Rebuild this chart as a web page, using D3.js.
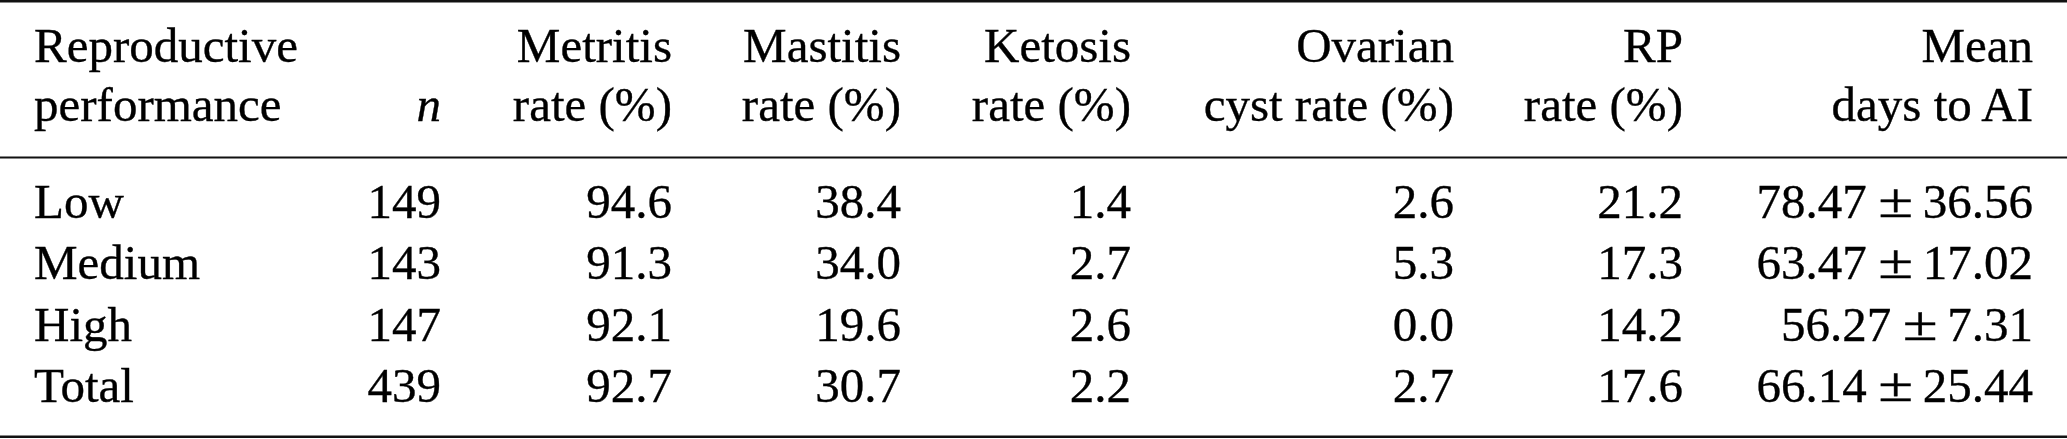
<!DOCTYPE html>
<html>
<head>
<meta charset="utf-8">
<script src="https://cdn.jsdelivr.net/npm/d3@7"></script>
<style>
  html, body { margin: 0; padding: 0; background: #fff; }
  svg { display: block; }
  text { font-family: "Liberation Serif", "Times New Roman", serif; fill: #000; stroke: #000; stroke-width: 0.35; }
</style>
</head>
<body>
<svg id="chart"></svg>
<script>
// table values
var groups = ["Low", "Medium", "High", "Total"];
var nVals = [149, 143, 147, 439];
var metritis = [94.6, 91.3, 92.1, 92.7];
var mastitis = [38.4, 34.0, 19.6, 30.7];
var ketosis = [1.4, 2.7, 2.6, 2.2];
var ovarian = [2.6, 5.3, 0.0, 2.7];
var rp = [21.2, 17.3, 14.2, 17.6];
var meanDays = [78.47, 63.47, 56.27, 66.14];
var sdDays = [36.56, 17.02, 7.31, 25.44];

var headTop = ["Reproductive", "", "Metritis", "Mastitis", "Ketosis", "Ovarian", "RP", "Mean"];
var headBottom = ["performance", "n", "rate (%)", "rate (%)", "rate (%)", "cyst rate (%)", "rate (%)", "days to AI"];

var width = 2067, height = 439, fontSize = 49;

var svg = d3.select("#chart")
    .attr("width", width)
    .attr("height", height);

// column anchors: first column left aligned, the rest right aligned
var colKeys = ["group", "n", "metritis", "mastitis", "ketosis", "ovarian", "rp", "mean"];
var x = d3.scaleOrdinal()
    .domain(colKeys)
    .range([34, 441, 672, 901, 1131, 1454, 1683, 2033]);

var y = d3.scalePoint()
    .domain(groups)
    .range([218, 402]);

var f1 = d3.format(".1f"), f2 = d3.format(".2f");

// rules
var rules = [{ y: 1.2, w: 2.4 }, { y: 157.5, w: 2.2 }, { y: 436.8, w: 2.4 }];
svg.selectAll("line.rule")
    .data(rules)
    .enter().append("line")
    .attr("class", "rule")
    .attr("x1", 0)
    .attr("x2", width)
    .attr("y1", function (d) { return d.y; })
    .attr("y2", function (d) { return d.y; })
    .attr("stroke", "#111")
    .attr("stroke-width", function (d) { return d.w; });

// header
var head = svg.append("g").attr("class", "head");
colKeys.forEach(function (k, i) {
    var anchor = i === 0 ? "start" : "end";
    if (headTop[i]) {
        head.append("text")
            .attr("x", x(k)).attr("y", 62)
            .attr("text-anchor", anchor)
            .attr("font-size", fontSize)
            .text(headTop[i]);
    }
    head.append("text")
        .attr("x", x(k)).attr("y", 121)
        .attr("text-anchor", anchor)
        .attr("font-size", fontSize)
        .attr("font-style", k === "n" ? "italic" : null)
        .text(headBottom[i]);
});

// body rows
var rows = groups.map(function (g, i) {
    return {
        group: g,
        n: String(nVals[i]),
        metritis: f1(metritis[i]),
        mastitis: f1(mastitis[i]),
        ketosis: f1(ketosis[i]),
        ovarian: f1(ovarian[i]),
        rp: f1(rp[i]),
        mean: f2(meanDays[i]),
        sd: f2(sdDays[i])
    };
});

var rowG = svg.selectAll("g.row")
    .data(rows)
    .enter().append("g")
    .attr("class", "row")
    .attr("transform", function (d) { return "translate(0," + y(d.group) + ")"; });

colKeys.slice(0, 7).forEach(function (k, i) {
    rowG.append("text")
        .attr("x", x(k))
        .attr("text-anchor", i === 0 ? "start" : "end")
        .attr("font-size", fontSize)
        .text(function (d) { return d[k]; });
});

// mean ± sd, laid out like math mode: sd flush right, wide ± before it
rowG.each(function (d) {
    var g = d3.select(this);
    var sd = g.append("text")
        .attr("x", x("mean"))
        .attr("text-anchor", "end")
        .attr("font-size", fontSize)
        .text(d.sd);
    var sdStart = x("mean") - sd.node().getComputedTextLength();
    var pmX = sdStart - 27;
    g.append("text")
        .attr("transform", "translate(" + pmX + ",-1) scale(1.3,1)")
        .attr("text-anchor", "middle")
        .attr("font-size", fontSize)
        .text("\u00b1");
    g.append("text")
        .attr("x", pmX - 29)
        .attr("text-anchor", "end")
        .attr("font-size", fontSize)
        .text(d.mean);
});
</script>
</body>
</html>
